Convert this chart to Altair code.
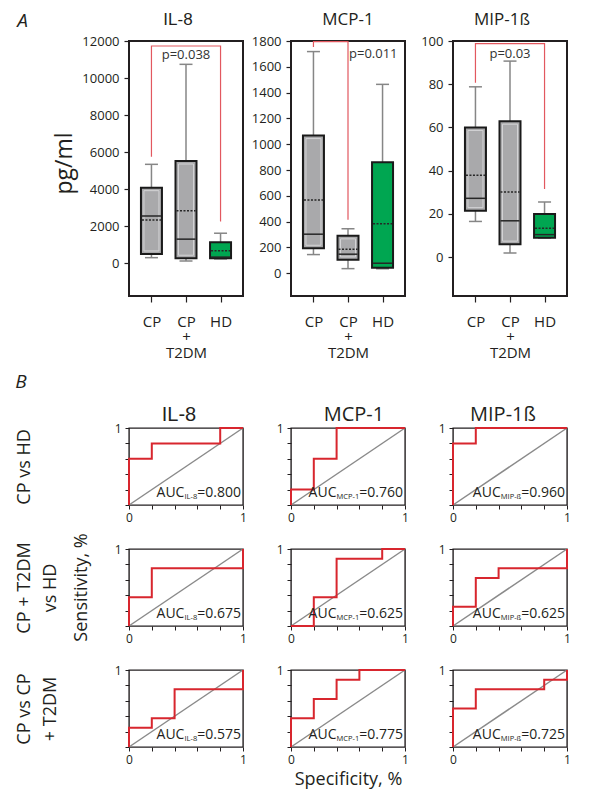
import altair as alt
import pandas as pd

FONT = "Open Sans"
TXT = "#231f20"
RED = "#d8262e"
BRACKET = "#e2585f"
GRAY_BOX = "#a9a9ab"
GREEN = "#00a651"
WHISK = "#868686"
DARK = "#262626"

PW = 114
TOP_H = 255
ROC_H = 77
SP_H = 44

groups = ["CP", "CP|+|T2DM", "HD"]

# ---- Panel A: box plots (pg/ml) ----
il8_low = [300, 120, 230]
il8_q1 = [500, 270, 270]
il8_med = [2550, 1300, 330]
il8_mean = [2340, 2840, 680]
il8_q3 = [4080, 5520, 1130]
il8_high = [5340, 10740, 1620]
il8_br_g = ["CP", "CP", "HD", "HD"]
il8_br_v = [5750, 11730, 11730, 2250]

mcp_low = [145, 36, 35]
mcp_q1 = [194, 104, 42]
mcp_med = [303, 148, 78]
mcp_mean = [567, 187, 383]
mcp_q3 = [1067, 290, 860]
mcp_high = [1718, 345, 1464]
mcp_br_g = ["CP", "CP", "CP|+|T2DM", "CP|+|T2DM"]
mcp_br_v = [1754, 1795, 1795, 414]

mip_low = [16.5, 1.9, 8.8]
mip_q1 = [21.5, 6.0, 9.0]
mip_med = [27.2, 16.8, 10.4]
mip_mean = [37.9, 30.1, 13.4]
mip_q3 = [60.0, 62.9, 19.9]
mip_high = [78.8, 90.7, 25.5]
mip_br_g = ["CP", "CP", "HD", "HD"]
mip_br_v = [80.7, 98.8, 98.8, 31.5]

# ---- Panel B: ROC step curves ----
r1_il8_x = [0, 0, 0.2, 0.2, 0.8, 0.8, 1]
r1_il8_y = [0, 0.6, 0.6, 0.8, 0.8, 1, 1]
r1_mcp_x = [0, 0, 0.2, 0.2, 0.4, 0.4, 1]
r1_mcp_y = [0, 0.2, 0.2, 0.6, 0.6, 1, 1]
r1_mip_x = [0, 0, 0.2, 0.2, 1]
r1_mip_y = [0, 0.8, 0.8, 1, 1]

r2_il8_x = [0, 0, 0.2, 0.2, 1, 1]
r2_il8_y = [0, 0.375, 0.375, 0.75, 0.75, 1]
r2_mcp_x = [0, 0.2, 0.2, 0.4, 0.4, 0.8, 0.8, 1]
r2_mcp_y = [0, 0, 0.375, 0.375, 0.875, 0.875, 1, 1]
r2_mip_x = [0, 0, 0.2, 0.2, 0.4, 0.4, 1, 1]
r2_mip_y = [0, 0.25, 0.25, 0.625, 0.625, 0.75, 0.75, 1]

r3_il8_x = [0, 0, 0.2, 0.2, 0.4, 0.4, 1, 1]
r3_il8_y = [0, 0.25, 0.25, 0.375, 0.375, 0.75, 0.75, 1]
r3_mcp_x = [0, 0, 0.2, 0.2, 0.4, 0.4, 0.6, 0.6, 1]
r3_mcp_y = [0, 0.375, 0.375, 0.625, 0.625, 0.875, 0.875, 1, 1]
r3_mip_x = [0, 0, 0.2, 0.2, 0.8, 0.8, 1, 1]
r3_mip_y = [0, 0.5, 0.5, 0.75, 0.75, 0.875, 0.875, 1]

auc_vals = ["0.800", "0.760", "0.960", "0.675", "0.625", "0.625", "0.575", "0.775", "0.725"]
auc_subs = ["IL-8", "MCP-1", "MIP-ß"]
diag_x = [0, 1]
diag_y = [0, 1]
roc_ticks = [0, 0.2, 0.4, 0.6, 0.8, 1]

EM = {"A": 0.633, "U": 0.742, "C": 0.635, "I": 0.279, "L": 0.531, "-": 0.322,
      "M": 0.903, "P": 0.603, "ß": 0.625, "=": 0.572, ".": 0.266}


def tw(s, size):
    return sum(EM.get(c, 0.572) for c in s) * size


def box_panel(title, title_font, title_dx, low, q1, med, mean, q3, high, dom, ticks,
              br_g, br_v, p_text, p_cat, p_val, p_align, p_dx, ytitle):
    df = pd.DataFrame({"cat": groups, "low": low, "q1": q1, "med": med,
                       "mean": mean, "q3": q3, "high": high})
    xs = alt.Scale(type="point", domain=groups, padding=0.65)
    xax = alt.Axis(title=None, labelExpr="split(datum.label, '|')", labelAngle=0,
                   labelFontSize=15, labelLineHeight=15.5, labelBaseline="top",
                   labelPadding=12, tickSize=6, tickWidth=1.2, domain=False, grid=False)
    ys = alt.Scale(domain=dom, nice=False, zero=False)
    if ytitle:
        yax = alt.Axis(values=ticks, format="d", tickSize=5, tickWidth=1.2, labelPadding=5,
                       labelFontSize=13, domain=False, grid=False, title=ytitle,
                       titleFontSize=23, titleFontWeight="normal", titleAngle=270,
                       titleX=-65, titleY=122, titleBaseline="middle", titleAlign="center")
    else:
        yax = alt.Axis(values=ticks, format="d", tickSize=5, tickWidth=1.2, labelPadding=5,
                       labelFontSize=13, domain=False, grid=False, title=None)

    def X():
        return alt.X("cat:N", scale=xs, axis=xax)

    def Y(f):
        return alt.Y(f + ":Q", scale=ys, axis=yax)

    base = alt.Chart(df)
    whisk = base.mark_rule(color=WHISK, strokeWidth=1.5).encode(x=X(), y=Y("low"), y2="high:Q")
    cap_lo = base.mark_rule(color=WHISK, strokeWidth=1.5, xOffset=-6.5, x2Offset=6.5).encode(
        x=X(), x2="cat:N", y=Y("low"))
    cap_hi = base.mark_rule(color=WHISK, strokeWidth=1.5, xOffset=-6.5, x2Offset=6.5).encode(
        x=X(), x2="cat:N", y=Y("high"))
    box = base.mark_bar(size=21, stroke="#1a1a1a", strokeWidth=2).encode(
        x=X(), y=Y("q1"), y2="q3:Q",
        color=alt.Color("cat:N", scale=alt.Scale(domain=groups, range=[GRAY_BOX, GRAY_BOX, GREEN]),
                        legend=None))
    inner = base.mark_bar(size=15, fillOpacity=0, strokeWidth=1, yOffset=-3, y2Offset=3).encode(
        x=X(), y=Y("q1"), y2="q3:Q",
        stroke=alt.Stroke("cat:N", scale=alt.Scale(domain=groups, range=["#d3d3d5", "#d3d3d5", GREEN]),
                          legend=None))
    median = base.mark_rule(color=DARK, strokeWidth=1.5, xOffset=-9.5, x2Offset=9.5).encode(
        x=X(), x2="cat:N", y=Y("med"))
    meanl = base.mark_rule(color=DARK, strokeWidth=1.5, strokeDash=[2, 1.5],
                           xOffset=-9.5, x2Offset=9.5).encode(x=X(), x2="cat:N", y=Y("mean"))
    bdf = pd.DataFrame({"cat": br_g, "v": br_v, "i": list(range(len(br_g)))})
    bracket = alt.Chart(bdf).mark_line(color=BRACKET, strokeWidth=1.2).encode(
        x=X(), y=Y("v"), order="i:Q")
    pdf = pd.DataFrame({"cat": [p_cat], "v": [p_val], "t": [p_text]})
    ptxt = alt.Chart(pdf).mark_text(align=p_align, dx=p_dx, baseline="middle", fontSize=13,
                                    color="#333333").encode(x=X(), y=Y("v"), text="t:N")
    return alt.layer(whisk, cap_lo, cap_hi, box, inner, median, meanl, bracket, ptxt).properties(
        width=PW, height=TOP_H,
        view=alt.ViewBackground(stroke=TXT, strokeWidth=2),
        title=alt.Title(title, font=title_font, fontSize=17, fontWeight="normal", offset=-7,
                        baseline="alphabetic", dx=title_dx, frame="group", color=TXT))


def roc_panel(xs_, ys_, sub, auc, title=None, title_font=FONT, title_dx=0,
              row_label=None, row_label_x=0, xtitle=None, sens=False):
    sc = alt.Scale(domain=[0, 1], nice=False, zero=False)
    if xtitle:
        xax = alt.Axis(values=roc_ticks, labelExpr="datum.value == 0 ? '0' : datum.value == 1 ? '1' : ''",
                       tickSize=4, labelPadding=3, labelFontSize=12, labelBaseline="top",
                       labelFlush=False, domain=False, grid=False, title=xtitle,
                       titleFontSize=18, titleFontWeight="normal", titleY=37,
                       titleBaseline="alphabetic")
    else:
        xax = alt.Axis(values=roc_ticks, labelExpr="datum.value == 0 ? '0' : datum.value == 1 ? '1' : ''",
                       tickSize=4, labelPadding=3, labelFontSize=12, labelBaseline="top",
                       labelFlush=False, domain=False, grid=False, title=None)
    if row_label:
        yax = alt.Axis(values=roc_ticks, labelExpr="datum.value == 1 ? '1' : ''",
                       tickSize=4, labelPadding=4, labelFontSize=12, labelFlush=False,
                       domain=False, grid=False, title=row_label, titleFontSize=18,
                       titleFontWeight="normal", titleAngle=270, titleX=row_label_x,
                       titleY=ROC_H / 2, titleBaseline="middle", titleAlign="center",
                       titleLineHeight=26)
    else:
        yax = alt.Axis(values=roc_ticks, labelExpr="datum.value == 1 ? '1' : ''",
                       tickSize=4, labelPadding=4, labelFontSize=12, labelFlush=False,
                       domain=False, grid=False, title=None)

    ddf = pd.DataFrame({"x": diag_x, "y": diag_y})
    diag = alt.Chart(ddf).mark_line(color="#8a8a8a", strokeWidth=1.5).encode(
        x=alt.X("x:Q", scale=sc, axis=xax), y=alt.Y("y:Q", scale=sc, axis=yax))
    cdf = pd.DataFrame({"x": xs_, "y": ys_, "i": list(range(len(xs_)))})
    curve = alt.Chart(cdf).mark_line(color=RED, strokeWidth=2).encode(
        x=alt.X("x:Q", scale=sc, axis=xax), y=alt.Y("y:Q", scale=sc, axis=yax), order="i:Q")
    val = "=" + auc
    wv = tw(val, 14)
    ws = tw(sub, 7.5)
    adf = pd.DataFrame({"x": [1], "y": [0.1], "a": ["AUC"], "s": [sub], "v": [val]})
    enc = dict(x=alt.X("x:Q", scale=sc, axis=xax), y=alt.Y("y:Q", scale=sc, axis=yax))
    t_v = alt.Chart(adf).mark_text(align="right", baseline="alphabetic", dx=-2, fontSize=14,
                                   color=TXT).encode(text="v:N", **enc)
    t_s = alt.Chart(adf).mark_text(align="right", baseline="alphabetic", dx=-2 - wv, dy=2,
                                   fontSize=7.5, color=TXT).encode(text="s:N", **enc)
    t_a = alt.Chart(adf).mark_text(align="right", baseline="alphabetic", dx=-2 - wv - ws,
                                   fontSize=14, color=TXT).encode(text="a:N", **enc)
    layers = [diag, curve, t_v, t_s, t_a]
    if sens:
        sdf = pd.DataFrame({"t": ["Sensitivity, %"]})
        layers.append(alt.Chart(sdf).mark_text(angle=270, align="center", baseline="middle",
                                               fontSize=18, color=TXT).encode(
            text="t:N", x=alt.value(-47), y=alt.value(ROC_H / 2)))
    props = dict(width=PW, height=ROC_H, view=alt.ViewBackground(stroke=TXT, strokeWidth=1.4))
    if title:
        props["title"] = alt.Title(title, font=title_font, fontSize=20, fontWeight="normal",
                                   offset=-19, baseline="alphabetic", dx=title_dx, frame="group",
                                   color=TXT)
    return alt.layer(*layers).properties(**props)


def spacer(label=None):
    df = pd.DataFrame({"t": [label if label else ""]})
    ch = alt.Chart(df).mark_text(fontSize=19, fontStyle="italic", align="center",
                                 baseline="middle", color=TXT).encode(
        text="t:N", x=alt.value(-108), y=alt.value(SP_H - 2))
    return ch.properties(width=PW, height=SP_H, view=alt.ViewBackground(strokeOpacity=0))


top_il8 = box_panel("IL-8", "Liberation Sans", -8, il8_low, il8_q1, il8_med, il8_mean, il8_q3,
                    il8_high, [-1770, 12000], [0, 2000, 4000, 6000, 8000, 10000, 12000],
                    il8_br_g, il8_br_v, "p=0.038", "CP|+|T2DM", 11240, "center", 0, "pg/ml")
top_mcp = box_panel("MCP-1", FONT, 0, mcp_low, mcp_q1, mcp_med, mcp_mean, mcp_q3, mcp_high,
                    [-176, 1800], [0, 200, 400, 600, 800, 1000, 1200, 1400, 1600, 1800],
                    mcp_br_g, mcp_br_v, "p=0.011", "CP|+|T2DM", 1700, "left", 1, None)
top_mip = box_panel("MIP-1ß", FONT, -8, mip_low, mip_q1, mip_med, mip_mean, mip_q3, mip_high,
                    [-18, 100], [0, 20, 40, 60, 80, 100],
                    mip_br_g, mip_br_v, "p=0.03", "CP|+|T2DM", 94, "center", 0, None)

panels = [
    top_il8, top_mcp, top_mip,
    spacer("B"), spacer(), spacer(),
    roc_panel(r1_il8_x, r1_il8_y, auc_subs[0], auc_vals[0], title="IL-8",
              title_font="Liberation Sans", title_dx=-7, row_label="CP vs HD", row_label_x=-105),
    roc_panel(r1_mcp_x, r1_mcp_y, auc_subs[1], auc_vals[1], title="MCP-1", title_dx=6),
    roc_panel(r1_mip_x, r1_mip_y, auc_subs[2], auc_vals[2], title="MIP-1ß", title_dx=-7),
    roc_panel(r2_il8_x, r2_il8_y, auc_subs[0], auc_vals[3], row_label=["CP + T2DM", "vs HD"],
              row_label_x=-105, sens=True),
    roc_panel(r2_mcp_x, r2_mcp_y, auc_subs[1], auc_vals[4]),
    roc_panel(r2_mip_x, r2_mip_y, auc_subs[2], auc_vals[5]),
    roc_panel(r3_il8_x, r3_il8_y, auc_subs[0], auc_vals[6], row_label=["CP vs CP", "+ T2DM"],
              row_label_x=-105),
    roc_panel(r3_mcp_x, r3_mcp_y, auc_subs[1], auc_vals[7], xtitle="Specificity, %"),
    roc_panel(r3_mip_x, r3_mip_y, auc_subs[2], auc_vals[8]),
]

chart = alt.concat(
    *panels, columns=3, spacing={"row": 44, "column": 48}, bounds="flush",
    padding={"left": 6, "top": 2, "right": 5, "bottom": 5},
    title=alt.Title("A", anchor="start", frame="bounds", fontStyle="italic", fontSize=19,
                    fontWeight="normal", offset=-36, dx=3, baseline="alphabetic", color=TXT,
                    font=FONT),
).configure_axis(
    labelFont=FONT, titleFont=FONT, labelColor=TXT, titleColor=TXT, tickColor=TXT
).configure_text(font=FONT).configure_title(font=FONT).configure_view(stroke=TXT)

chart.save("out.html", embed_options={"renderer": "svg", "actions": False})
